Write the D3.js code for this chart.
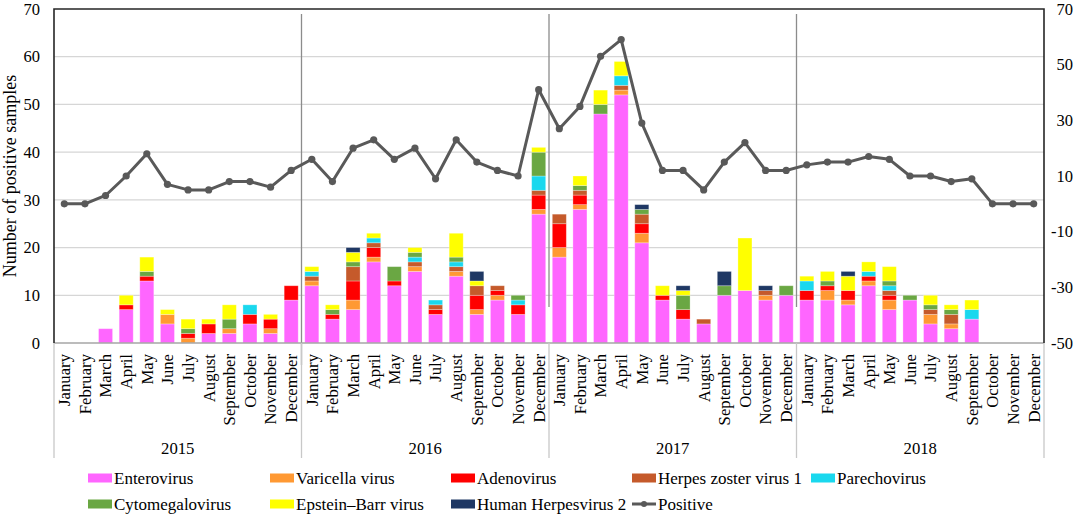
<!DOCTYPE html>
<html>
<head>
<meta charset="utf-8">
<script src="https://cdn.jsdelivr.net/npm/d3@7"></script>
<style>
  body { margin: 0; background: #fff; }
  svg text { font-family: "Liberation Serif", "Times New Roman", Times, serif; fill: #000; }
</style>
</head>
<body>
<div id="chart"></div>
<script>
var years = ["2015", "2016", "2017", "2018"]
var months = ["January", "February", "March", "April", "May", "June", "July",
  "August", "September", "October", "November", "December"]

var seriesNames = ["Enterovirus", "Varicella virus", "Adenovirus", "Herpes zoster virus 1",
  "Parechovirus", "Cytomegalovirus", "Epstein\u2013Barr virus", "Human Herpesvirus 2"]
var seriesColors = ["#ff66ff", "#ff9933", "#ff0000", "#c55a2b",
  "#1ad8ee", "#6aa743", "#ffff00", "#1f3864"]

// monthly counts, Jan 2015 .. Dec 2018
var enterovirus = [0,0,3,7,13,4,0,2,2,4,2,9, 12,5,7,17,12,15,6,14,6,9,6,27,
  18,28,48,52,21,9,5,4,10,11,9,10, 9,9,8,12,7,9,4,3,5,0,0,0]
var varicella = [0,0,0,0,0,2,1,0,1,0,1,0, 1,0,2,1,0,1,0,1,1,1,0,1,
  2,1,0,1,2,0,0,0,0,0,1,0, 0,2,1,1,2,0,2,1,0,0,0,0]
var adenovirus = [0,0,0,1,1,0,1,2,0,2,2,3, 0,1,4,2,1,0,1,0,3,1,2,3,
  5,2,0,0,2,1,2,0,0,0,0,0, 2,1,2,1,1,0,0,0,0,0,0,0]
var herpesZoster = [0,0,0,0,0,0,0,0,0,0,0,0, 1,0,3,1,0,1,1,1,2,1,0,1,
  2,1,0,1,2,0,0,1,0,0,1,0, 0,0,0,0,1,0,1,2,0,0,0,0]
var parechovirus = [0,0,0,0,0,0,0,0,0,2,0,0, 1,0,0,1,0,1,1,1,0,0,1,3,
  0,0,0,2,0,0,0,0,0,0,0,0, 2,0,0,1,1,0,0,0,2,0,0,0]
var cytomegalovirus = [0,0,0,0,1,0,1,0,2,0,0,0, 0,1,1,0,3,1,0,1,0,0,1,5,
  0,1,2,0,1,0,3,0,2,0,0,2, 0,1,0,0,1,1,1,1,0,0,0,0]
var epsteinBarr = [0,0,0,2,3,1,2,1,3,0,1,0, 1,1,2,1,0,1,0,5,1,0,0,1,
  0,2,3,3,0,2,1,0,0,11,0,0, 1,2,3,2,3,0,2,1,2,0,0,0]
var herpesvirus2 = [0,0,0,0,0,0,0,0,0,0,0,0, 0,0,1,0,0,0,0,0,2,0,0,0,
  0,0,0,0,1,0,1,0,3,0,1,0, 0,0,1,0,0,0,0,0,0,0,0,0]
var positive = [0,0,3,10,18,7,5,5,8,8,6,12, 16,8,20,23,16,20,9,23,15,12,10,41,
  27,35,53,59,29,12,12,5,15,22,12,12, 14,15,15,17,16,10,10,8,9,0,0,0]

var leftTicks = [0, 10, 20, 30, 40, 50, 60, 70]
var rightTicks = [-50, -30, -10, 10, 30, 50, 70]

var allSeries = [enterovirus, varicella, adenovirus, herpesZoster,
  parechovirus, cytomegalovirus, epsteinBarr, herpesvirus2]

// one row per month
var rows = []
years.forEach(function (y) {
  months.forEach(function (m) { rows.push({ key: m + " " + y, year: y, month: m }) })
})
rows.forEach(function (r, i) {
  allSeries.forEach(function (s, k) { r[seriesNames[k]] = s[i] })
})

var W = 1084, H = 514
var plot = { left: 54, right: 1044, top: 9, bottom: 343 }
var serif = "'Liberation Serif', 'Times New Roman', Times, serif"

var svg = d3.select("#chart").append("svg")
  .attr("width", W).attr("height", H)
  .attr("font-family", serif)

var x = d3.scaleBand()
  .domain(rows.map(function (d) { return d.key }))
  .range([plot.left, plot.right])
  .paddingInner(0.32)
  .paddingOuter(0.16)
var step = x.step()
var y = d3.scaleLinear().domain([0, 70]).range([plot.bottom, plot.top])
var y2 = d3.scaleLinear().domain([-50, 70]).range([plot.bottom, plot.top])

// grid
svg.append("g").selectAll("line")
  .data(leftTicks.filter(function (t) { return t > 0 && t < 70 }))
  .enter().append("line")
  .attr("x1", plot.left).attr("x2", plot.right)
  .attr("y1", function (d) { return y(d) }).attr("y2", function (d) { return y(d) })
  .attr("stroke", "#d6d6d6").attr("stroke-width", 1.2)

// stacked bars
var stack = d3.stack().keys(seriesNames)
var layers = stack(rows)

svg.append("g").selectAll("g")
  .data(layers)
  .enter().append("g")
  .attr("fill", function (d, i) { return seriesColors[i] })
  .selectAll("rect")
  .data(function (d) { return d })
  .enter().append("rect")
  .filter(function (d) { return d[1] - d[0] > 0 })
  .attr("x", function (d) { return x(d.data.key) })
  .attr("width", x.bandwidth())
  .attr("y", function (d) { return y(d[1]) })
  .attr("height", function (d) { return y(d[0]) - y(d[1]) })
  .attr("stroke", "#fff").attr("stroke-opacity", 0.35).attr("stroke-width", 0.8)

// year separators inside the plot
var bounds = [12, 24, 36]
svg.append("g").selectAll("line")
  .data(bounds)
  .enter().append("line")
  .attr("x1", function (d) { return plot.left + d * step })
  .attr("x2", function (d) { return plot.left + d * step })
  .attr("y1", 14)
  .attr("y2", function (d, i) { return i == 0 ? 365 : 307 })
  .attr("stroke", "#8c8c8c").attr("stroke-width", 1.3)

// frame
svg.append("line").attr("x1", plot.left).attr("x2", plot.right)
  .attr("y1", plot.bottom).attr("y2", plot.bottom)
  .attr("stroke", "#a6a6a6").attr("stroke-width", 1.5)
svg.append("path")
  .attr("d", "M" + plot.left + "," + plot.bottom + "V" + plot.top + "H" + plot.right + "V" + plot.bottom)
  .attr("fill", "none").attr("stroke", "#262626").attr("stroke-width", 1.6)

// Positive line (secondary axis)
var line = d3.line()
  .x(function (d, i) { return x(rows[i].key) + x.bandwidth() / 2 })
  .y(function (d) { return y2(d) })
svg.append("path").datum(positive)
  .attr("d", line)
  .attr("fill", "none").attr("stroke", "#595959").attr("stroke-width", 3)
  .attr("stroke-linejoin", "round")
svg.append("g").selectAll("circle")
  .data(positive)
  .enter().append("circle")
  .attr("cx", function (d, i) { return x(rows[i].key) + x.bandwidth() / 2 })
  .attr("cy", function (d) { return y2(d) })
  .attr("r", 3.6)
  .attr("fill", "#595959")

// left axis labels
svg.append("g").selectAll("text")
  .data(leftTicks)
  .enter().append("text")
  .attr("x", 40).attr("y", function (d) { return y(d) })
  .attr("dy", "0.35em").attr("text-anchor", "end")
  .style("font-size", "16.5px")
  .text(function (d) { return d })

// right axis labels
svg.append("g").selectAll("text")
  .data(rightTicks)
  .enter().append("text")
  .attr("x", 1073).attr("y", function (d) { return y2(d) })
  .attr("dy", "0.35em").attr("text-anchor", "end")
  .style("font-size", "16.5px")
  .text(function (d) { return d })

svg.append("text")
  .attr("transform", "translate(16," + ((plot.top + plot.bottom) / 2) + ") rotate(-90)")
  .attr("text-anchor", "middle")
  .style("font-size", "18px")
  .text("Number of positive samples")

// month labels
svg.append("g").selectAll("text")
  .data(rows)
  .enter().append("text")
  .attr("transform", function (d) {
    return "translate(" + (x(d.key) + x.bandwidth() / 2) + ",354) rotate(-90)"
  })
  .attr("dy", "0.35em").attr("text-anchor", "end")
  .style("font-size", "16.7px")
  .text(function (d) { return d.month })

// year group separators + labels
svg.append("g").selectAll("line")
  .data([0, 12, 24, 36, 48])
  .enter().append("line")
  .attr("x1", function (d) { return plot.left + d * step })
  .attr("x2", function (d) { return plot.left + d * step })
  .attr("y1", plot.bottom).attr("y2", 458)
  .attr("stroke", "#c8c8c8").attr("stroke-width", 1.3)
svg.append("g").selectAll("text")
  .data(years)
  .enter().append("text")
  .attr("x", function (d, i) { return plot.left + (i * 12 + 6) * step })
  .attr("y", 448).attr("dy", "0.35em")
  .attr("text-anchor", "middle")
  .style("font-size", "16.7px")
  .text(function (d) { return d })

// legend
var legendX = [88, 270, 451, 632, 811]
var legendItems = seriesNames.map(function (n, i) { return { name: n, color: seriesColors[i] } })
legendItems.push({ name: "Positive", line: true })
var lg = svg.append("g").selectAll("g")
  .data(legendItems)
  .enter().append("g")
  .attr("transform", function (d, i) {
    var col = i < 5 ? i : i - 5
    var row = i < 5 ? 0 : 1
    return "translate(" + legendX[col] + "," + (478 + row * 26) + ")"
  })
lg.filter(function (d) { return !d.line }).append("rect")
  .attr("x", 0).attr("y", -4.5).attr("width", 24).attr("height", 9)
  .attr("fill", function (d) { return d.color })
lg.filter(function (d) { return d.line }).append("line")
  .attr("x1", 0).attr("x2", 24).attr("y1", 0).attr("y2", 0)
  .attr("stroke", "#595959").attr("stroke-width", 3)
lg.filter(function (d) { return d.line }).append("circle")
  .attr("cx", 12).attr("cy", 0).attr("r", 3).attr("fill", "#595959")
lg.append("text")
  .attr("x", 26).attr("y", 0).attr("dy", "0.35em")
  .style("font-size", "17px")
  .text(function (d) { return d.name })
</script>
</body>
</html>
